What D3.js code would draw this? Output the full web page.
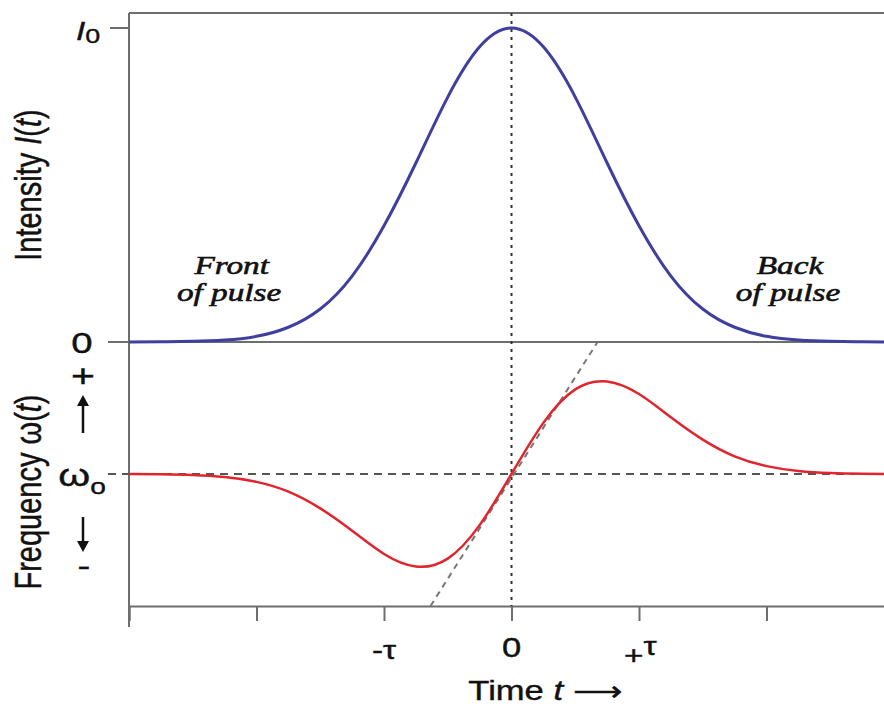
<!DOCTYPE html>
<html>
<head>
<meta charset="utf-8">
<script src="https://cdn.jsdelivr.net/npm/d3@7"></script>
<style>
  body { margin: 0; background: #fff; }
  svg text { font-family: "Liberation Sans", Arial, sans-serif; fill: #111; stroke: #111; stroke-width: 0.4px; }
  .note { font-family: "Liberation Serif", "Times New Roman", serif; font-style: italic; stroke-width: 0.6px; }
</style>
</head>
<body>
<div id="chart"></div>
<script>
// time in units of tau
var timeValues = [-3, -2.75, -2.5, -2.25, -2, -1.75, -1.5, -1.25, -1, -0.75, -0.5, -0.25, 0,
                  0.25, 0.5, 0.75, 1, 1.25, 1.5, 1.75, 2, 2.25, 2.5, 2.75, 3]
// intensity I(t)/I0
var intensity = [0, 0.001, 0.002, 0.006, 0.018, 0.047, 0.105, 0.21, 0.37, 0.57, 0.78, 0.94, 1,
                 0.94, 0.78, 0.57, 0.37, 0.21, 0.105, 0.047, 0.018, 0.006, 0.002, 0.001, 0]
// frequency shift (omega - omega0), relative to the peak shift
var freqShift = [0, -0.003, -0.011, -0.033, -0.085, -0.19, -0.37, -0.61, -0.86, -0.995, -0.91, -0.55, 0,
                 0.55, 0.91, 0.995, 0.86, 0.61, 0.37, 0.19, 0.085, 0.033, 0.011, 0.003, 0]
// tangent (linear chirp) through the centre
var chirpLine = [[-0.635, -1.42], [0.675, 1.42]]
var tickVals = [-3, -2, -1, 0, 1, 2]

var width = 884, height = 708
var SX = 1.28   // the original figure is stretched sideways

var svg = d3.select("#chart").append("svg")
  .attr("width", width)
  .attr("height", height)

var x = d3.scaleLinear().domain([-3, 3]).range([129, 894])
var yI = d3.scaleLinear().domain([0, 1]).range([342, 28])
var yW = d3.scaleLinear().domain([-1.42, 1.42]).range([606, 342])

var axisColor = "#6e6e6e"

// text placed at (px,py) and widened like the rest of the picture
function stext(px, py, size, rotate) {
  return svg.append("text")
    .attr("transform", "translate(" + px + "," + py + ") scale(" + SX + ",1)" + (rotate ? " rotate(-90)" : ""))
    .style("font-size", size + "px")
}

// frame lines
svg.append("line").attr("x1", 129).attr("x2", width).attr("y1", 13).attr("y2", 13)
  .attr("stroke", axisColor).attr("stroke-width", 2)
svg.append("line").attr("x1", 108).attr("x2", width).attr("y1", yI(0)).attr("y2", yI(0))
  .attr("stroke", axisColor).attr("stroke-width", 2)
svg.append("line").attr("x1", 110).attr("x2", 129).attr("y1", yI(1)).attr("y2", yI(1))
  .attr("stroke", axisColor).attr("stroke-width", 2)
svg.append("line").attr("x1", 129).attr("x2", 129).attr("y1", 13).attr("y2", 627)
  .attr("stroke", axisColor).attr("stroke-width", 2)

// bottom time axis
var xAxis = svg.append("g")
  .attr("transform", "translate(0," + yW(-1.42) + ")")
  .call(d3.axisBottom(x).tickValues(tickVals).tickSize(15).tickFormat(""))
xAxis.select(".domain").attr("stroke", axisColor).attr("stroke-width", 2)
xAxis.selectAll(".tick line").attr("stroke", axisColor).attr("stroke-width", 2)

// omega0 dashed line
svg.append("line").attr("x1", 108).attr("x2", width).attr("y1", yW(0)).attr("y2", yW(0))
  .attr("stroke", "#555").attr("stroke-width", 2).attr("stroke-dasharray", "8,6")

// vertical dotted line at t = 0
svg.append("line").attr("x1", x(0)).attr("x2", x(0)).attr("y1", 13).attr("y2", yW(-1.42))
  .attr("stroke", "#333").attr("stroke-width", 2).attr("stroke-dasharray", "3,5")

// tangent
svg.append("line")
  .attr("x1", x(chirpLine[0][0])).attr("y1", yW(chirpLine[0][1]))
  .attr("x2", x(chirpLine[1][0])).attr("y2", yW(chirpLine[1][1]))
  .attr("stroke", "#777").attr("stroke-width", 2).attr("stroke-dasharray", "6,5")

// intensity curve
var lineI = d3.line()
  .x(function (d, i) { return x(timeValues[i]) })
  .y(function (d) { return yI(d) })
  .curve(d3.curveNatural)
svg.append("path").datum(intensity)
  .attr("d", lineI)
  .attr("fill", "none").attr("stroke", "#3f3f9e").attr("stroke-width", 3)

// frequency curve
var lineW = d3.line()
  .x(function (d, i) { return x(timeValues[i]) })
  .y(function (d) { return yW(d) })
  .curve(d3.curveNatural)
svg.append("path").datum(freqShift)
  .attr("d", lineW)
  .attr("fill", "none").attr("stroke", "#e0252e").attr("stroke-width", 2.5)

// left labels
var i0 = stext(88, 40, 26).attr("text-anchor", "middle")
i0.append("tspan").style("font-style", "italic").text("I")
i0.append("tspan").attr("dy", 3).style("font-size", "21px").text("0")

stext(82, yI(0) + 11, 30).attr("text-anchor", "middle").text("0")
stext(83, 387, 32).attr("text-anchor", "middle").text("+")
stext(84, 576, 30).attr("text-anchor", "middle").text("-")

// up and down arrows
svg.append("line").attr("x1", 83).attr("x2", 83).attr("y1", 433).attr("y2", 402)
  .attr("stroke", "#111").attr("stroke-width", 2.5)
svg.append("path").attr("d", "M77,406 L83,395 L89,406 Z").attr("fill", "#111")
svg.append("line").attr("x1", 83).attr("x2", 83).attr("y1", 517).attr("y2", 546)
  .attr("stroke", "#111").attr("stroke-width", 2.5)
svg.append("path").attr("d", "M77,541 L83,552 L89,541 Z").attr("fill", "#111")

var w0 = stext(82, 486, 32).attr("text-anchor", "middle")
w0.append("tspan").text("ω")
w0.append("tspan").attr("dy", 8).style("font-size", "22px").text("o")

var yl1 = stext(41, 185, 29, true).attr("text-anchor", "middle")
yl1.append("tspan").text("Intensity ")
yl1.append("tspan").style("font-style", "italic").text("I")
yl1.append("tspan").text("(")
yl1.append("tspan").style("font-style", "italic").text("t")
yl1.append("tspan").text(")")

var yl2 = stext(41, 492, 29, true).attr("text-anchor", "middle")
yl2.append("tspan").text("Frequency ω(")
yl2.append("tspan").style("font-style", "italic").text("t")
yl2.append("tspan").text(")")

// tick labels
stext(x(-1), 659, 26).attr("text-anchor", "middle").text("-τ")
stext(x(0), 657, 27).attr("text-anchor", "middle").text("0")
var pt = stext(x(1) - 15, 664, 26)
pt.append("tspan").text("+")
pt.append("tspan").attr("dy", -9).text("τ")

// x label
var xl = stext(545, 700, 27).attr("text-anchor", "middle")
xl.append("tspan").text("Time ")
xl.append("tspan").style("font-style", "italic").text("t")
xl.append("tspan").text(" ⟶")

// notes
var front = stext(0, 0, 26).attr("class", "note").attr("text-anchor", "middle")
front.append("tspan").attr("x", 181).attr("y", 274).text("Front")
front.append("tspan").attr("x", 179).attr("y", 301).text("of pulse")
var back = stext(0, 0, 26).attr("class", "note").attr("text-anchor", "middle")
back.append("tspan").attr("x", 790 / SX).attr("y", 274).text("Back")
back.append("tspan").attr("x", 788 / SX).attr("y", 301).text("of pulse")
</script>
</body>
</html>
